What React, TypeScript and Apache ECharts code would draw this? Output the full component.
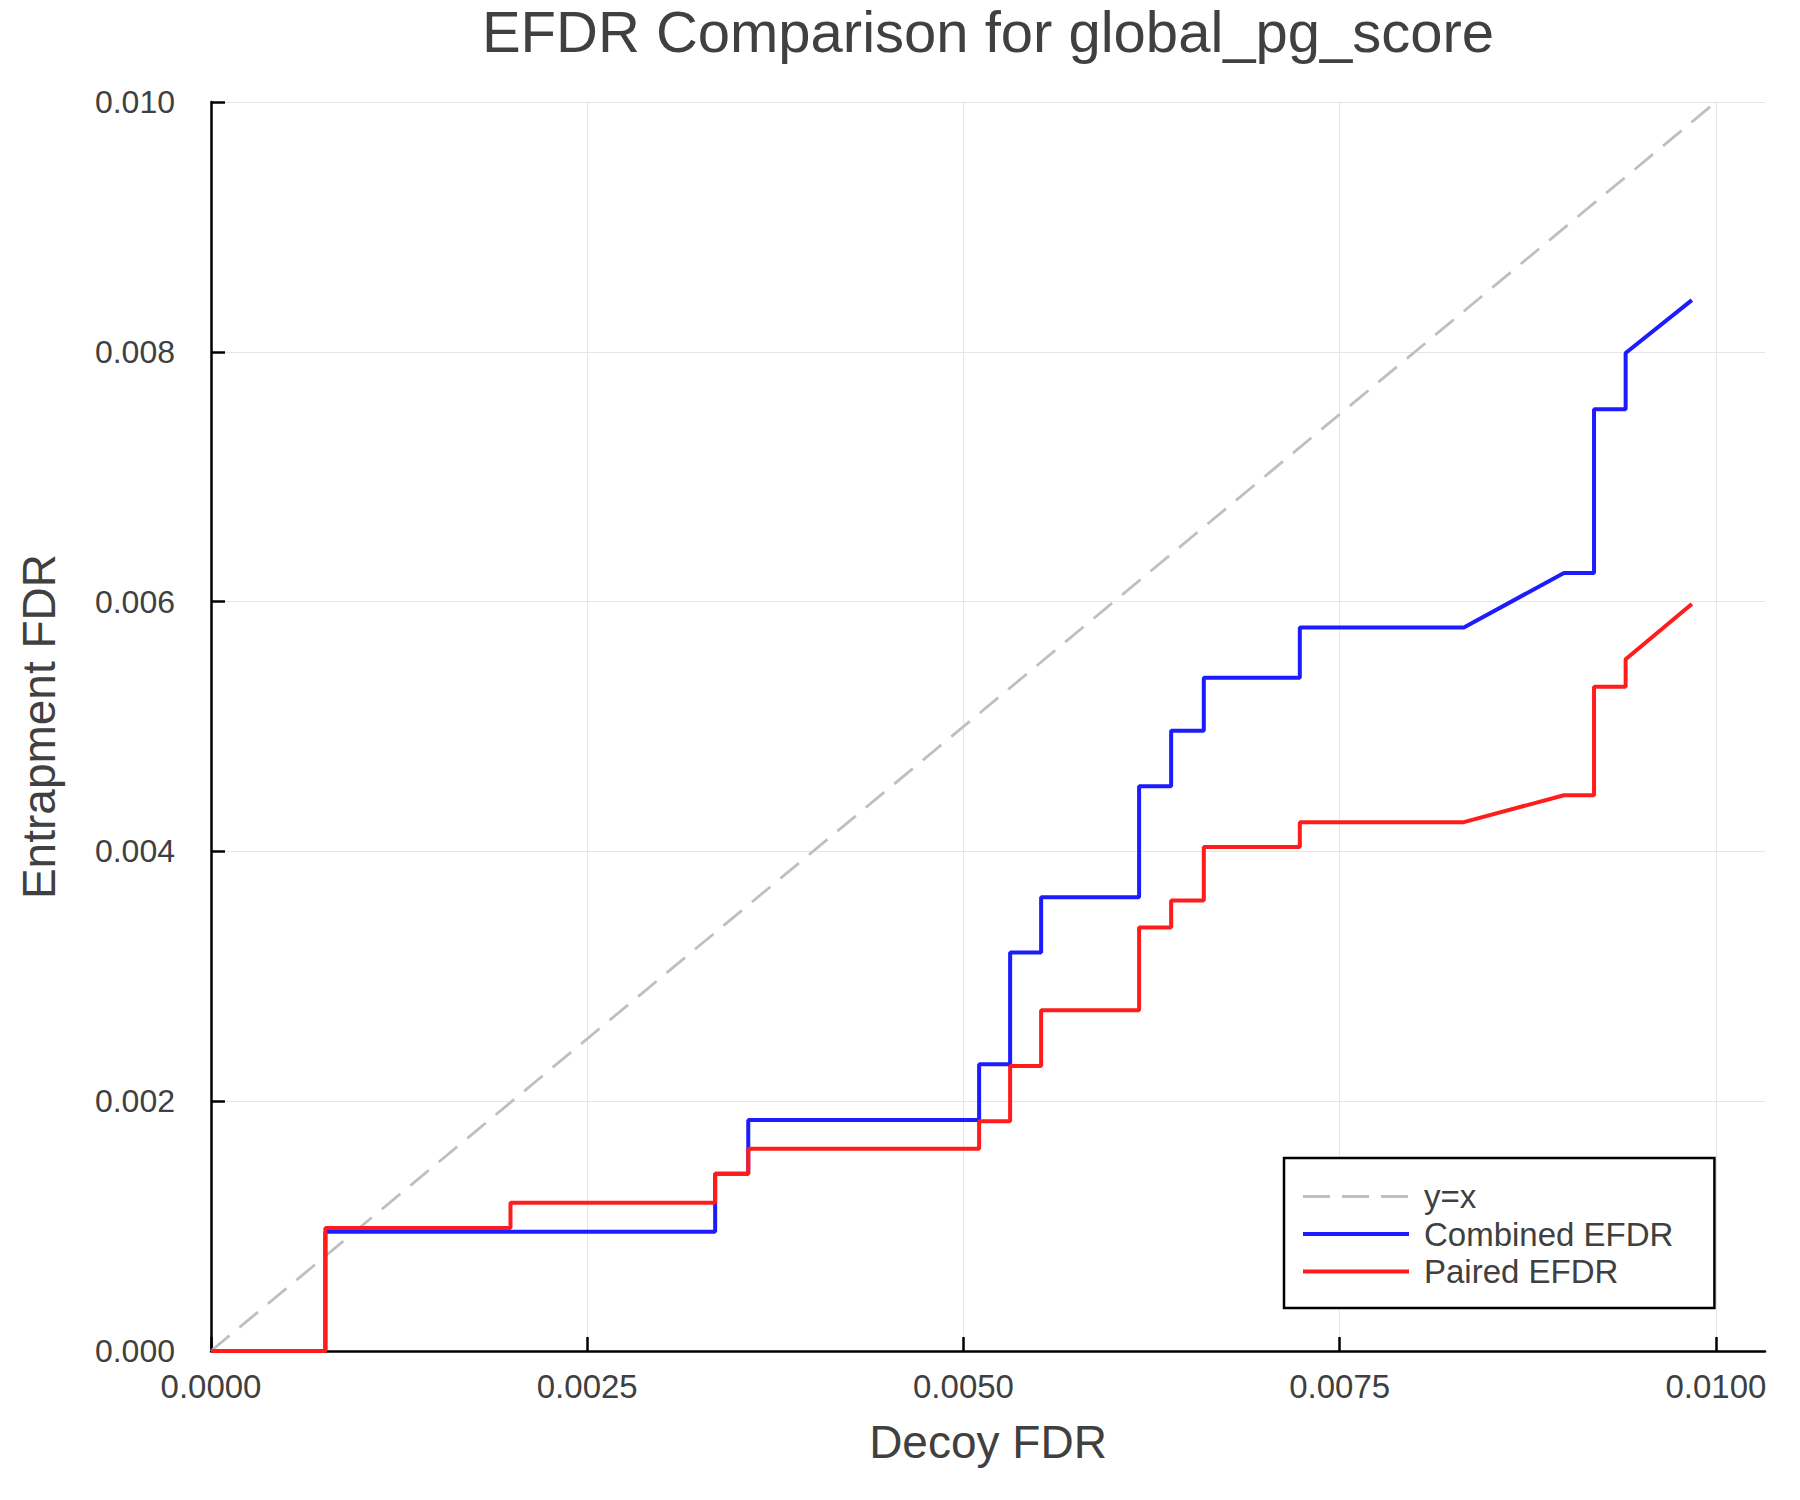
import React, { useEffect, useRef } from "react";
import * as echarts from "echarts";

const titleText = "EFDR Comparison for global_pg_score";
const xAxisTitle = "Decoy FDR";
const yAxisTitle = "Entrapment FDR";
const seriesNames = ["y=x", "Combined EFDR", "Paired EFDR"];

const xTicks = [0, 0.0025, 0.005, 0.0075, 0.01];
const yTicks = [0, 0.002, 0.004, 0.006, 0.008, 0.01];

const identityX = [0, 0.01];
const identityY = [0, 0.01];

const combinedX = [0, 0.00076, 0.00076, 0.00335, 0.00335, 0.00357, 0.00357, 0.005104, 0.005104, 0.00531, 0.00531, 0.005516, 0.005516, 0.006167, 0.006167, 0.00638, 0.00638, 0.006597, 0.006597, 0.007235, 0.007235, 0.008325, 0.00899, 0.00919, 0.00919, 0.0094, 0.0094, 0.00984];
const combinedY = [0, 0, 0.000955, 0.000955, 0.00142, 0.00142, 0.00185, 0.00185, 0.002296, 0.002296, 0.00319, 0.00319, 0.003633, 0.003633, 0.004522, 0.004522, 0.004965, 0.004965, 0.00539, 0.00539, 0.005793, 0.005793, 0.006229, 0.006229, 0.00754, 0.00754, 0.00799, 0.008414];

const pairedX = [0, 0.00076, 0.00076, 0.00199, 0.00199, 0.00335, 0.00335, 0.00357, 0.00357, 0.005104, 0.005104, 0.00531, 0.00531, 0.005516, 0.005516, 0.006167, 0.006167, 0.00638, 0.00638, 0.006597, 0.006597, 0.007235, 0.007235, 0.008325, 0.00899, 0.00919, 0.00919, 0.0094, 0.0094, 0.00984];
const pairedY = [0, 0, 0.000984, 0.000984, 0.001187, 0.001187, 0.00142, 0.00142, 0.00162, 0.00162, 0.00184, 0.00184, 0.002282, 0.002282, 0.002728, 0.002728, 0.003391, 0.003391, 0.003607, 0.003607, 0.004036, 0.004036, 0.004234, 0.004234, 0.00445, 0.00445, 0.005319, 0.005319, 0.005539, 0.005981];

const zip = (xs: number[], ys: number[]) => xs.map((x, i) => [x, ys[i]]);

const FONT = "'Liberation Sans', Arial, Helvetica, sans-serif";
const TEXT = "#404040";
const GRAY = "#bfbfbf";
const BLUE = "#1c1cff";
const RED = "#ff1c1c";

export default function App() {
  const ref = useRef<HTMLDivElement>(null);
  useEffect(() => {
    document.body.style.margin = "0";
    if (!ref.current) return;
    const chart = echarts.init(ref.current, null, { renderer: "svg" });
    const option: any = {
      animation: false,
      backgroundColor: "#ffffff",
      textStyle: { fontFamily: FONT },
      grid: { left: 211, top: 102, right: 35, bottom: 149, containLabel: false },
      graphic: [
        {
          type: "text",
          x: 988,
          y: 31,
          style: {
            text: titleText,
            fontSize: 58,
            fontFamily: FONT,
            fill: TEXT,
            textAlign: "center",
            textVerticalAlign: "middle",
          },
        },
      ],
      xAxis: {
        type: "value",
        min: 0,
        max: 0.010326,
        name: xAxisTitle,
        nameLocation: "middle",
        nameGap: 68,
        nameTextStyle: { fontSize: 46, color: TEXT, fontFamily: FONT },
        axisLine: { show: true, onZero: false, lineStyle: { color: "#000", width: 2.5 } },
        axisTick: { show: true, inside: true, length: 14, customValues: xTicks, lineStyle: { color: "#000", width: 2.5 } },
        axisLabel: {
          customValues: xTicks,
          formatter: (v: number) => v.toFixed(4),
          fontSize: 33,
          color: TEXT,
          fontFamily: FONT,
          margin: 19,
        },
        splitLine: { show: true, lineStyle: { color: "#e6e6e6", width: 1 } },
      },
      yAxis: {
        type: "value",
        min: 0,
        max: 0.01,
        interval: 0.002,
        name: yAxisTitle,
        nameLocation: "middle",
        nameGap: 149,
        nameRotate: 90,
        nameTextStyle: { fontSize: 46, color: TEXT, fontFamily: FONT },
        axisLine: { show: true, onZero: false, lineStyle: { color: "#000", width: 2.5 } },
        axisTick: { show: true, inside: true, length: 14, customValues: yTicks, lineStyle: { color: "#000", width: 2.5 } },
        axisLabel: {
          customValues: yTicks,
          formatter: (v: number) => v.toFixed(3),
          fontSize: 32,
          color: TEXT,
          fontFamily: FONT,
          margin: 36,
        },
        splitLine: { show: true, lineStyle: { color: "#e6e6e6", width: 1 } },
      },
      legend: {
        orient: "vertical",
        left: 1284,
        top: 1158,
        padding: [22, 41, 20, 17],
        itemWidth: 106,
        itemHeight: 14,
        itemGap: 4.5,
        borderColor: "#000",
        borderWidth: 2.5,
        borderRadius: 0,
        backgroundColor: "#ffffff",
        itemStyle: { opacity: 0, borderWidth: 0 },
        textStyle: { fontSize: 33, lineHeight: 33, color: TEXT, fontFamily: FONT, padding: [0, 0, 0, 10] },
        data: [
          { name: seriesNames[0], lineStyle: { width: 2.8, color: GRAY, type: [27, 12] } },
          { name: seriesNames[1], lineStyle: { width: 4, color: BLUE } },
          { name: seriesNames[2], lineStyle: { width: 4, color: RED } },
        ],
      },
      series: [
        {
          name: seriesNames[0],
          type: "line",
          symbol: "none",
          data: zip(identityX, identityY),
          lineStyle: { color: GRAY, width: 2.8, type: [24, 13] },
          itemStyle: { color: GRAY },
        },
        {
          name: seriesNames[1],
          type: "line",
          symbol: "none",
          data: zip(combinedX, combinedY),
          lineStyle: { color: BLUE, width: 4 },
          itemStyle: { color: BLUE },
        },
        {
          name: seriesNames[2],
          type: "line",
          symbol: "none",
          data: zip(pairedX, pairedY),
          lineStyle: { color: RED, width: 4 },
          itemStyle: { color: RED },
        },
      ],
    };
    chart.setOption(option);
    return () => chart.dispose();
  }, []);
  return <div ref={ref} style={{ width: 1800, height: 1500 }} />;
}
